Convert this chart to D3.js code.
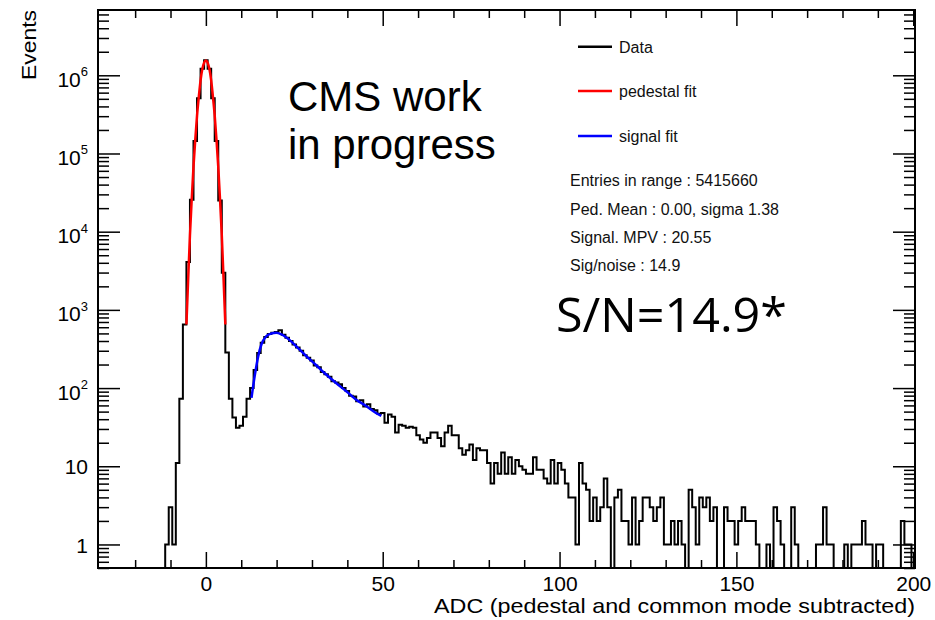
<!DOCTYPE html>
<html><head><meta charset="utf-8">
<script src="https://cdn.jsdelivr.net/npm/d3@7"></script>
<style>body{margin:0;background:#fff}svg{display:block}</style>
</head><body>
<svg id="c" width="935" height="620"></svg>
<script>
// ---------------- data ----------------
// histogram: 1-ADC-wide bins centred on integers -30 .. 200
const firstBin = -30;
const countsLeftTail = [0,0,0,0,0,0,0,0,0,0, 0,0,0,0,0,0,0,0,0];              // -30 .. -12
const countsPedestal = [1,3,1,11,73,650,4100,25700,144000,510000,1210000,
  1560000,1210000,510000,144000,25000,2980,285,73,42,31,33,43,73];           // -11 .. 12
const countsSignal = [100,170,280,380,450,490,510,520,550,480,440,400,360,330,300,262,
  245,225,195,185,160,150,140,122,118,112,100,92,80,78,68,70,58,62,54,52,47,
  48,36,46,43,27,34,33,31,32,31];                                             // 13 .. 59
const countsTail = [25,22,20,23,27,27,23,18,27,33,25,25,17,14,16,19,12,17,16,16,
  11,6,11,8,15,8,13,8,12,10,9,8,8,13,9,9,7,6,12,6,
  11,9,6,4,4,1,11,6,5,2,4,2,3,7,3,0,4,5,2,2,
  1,4,1,2,4,4,3,2,3,4,1,1,2,1,2,1,0,5,3,1,
  4,3,4,2,3,0,0,3,2,2,1,2,3,2,2,2,1,0,0,1,
  0,3,2,1,0,0,3,1,0,0,0,0,0,1,1,3,1,1,0,0,
  0,1,0,1,1,1,2,1,1,0,1,1,0,0,0,0,0,2,1,1,0];                              // 60 .. 200
const counts = [].concat(countsLeftTail, countsPedestal, countsSignal, countsTail);

const pedFitX = [-5.5,-5,-4.5,-4,-3.5,-3,-2.5,-2,-1.5,-1,-0.5,0,0.5,1,1.5,2,2.5,3,3.5,4,4.5,5,5.5];
const pedFitY = [650,2500,9000,26000,68000,150000,305000,530000,860000,1200000,1450000,1550000,
  1450000,1200000,860000,530000,305000,150000,68000,26000,9000,2500,650];

const sigFitX = [12.9,13.8,14.8,15.7,17.1,18.5,19.9,21.4,23.7,26.0,28.4,31.2,34.0,36.9,39.7,42.5,45.3,48.1,49.6];
const sigFitY = [75,142,256,361,461,499,510,485,410,327,256,196,149,115,91,71,59,48,44];

const xMajorTicks = [0,50,100,150,200];
const xMinorTicks = [-20,-10,10,20,30,40,60,70,80,90,110,120,130,140,160,170,180,190];
const yMajorTicks = [1,10,1e2,1e3,1e4,1e5,1e6];
const yMinorTicks = [0.5,0.6,0.7,0.8,0.9];
[1,10,1e2,1e3,1e4,1e5,1e6].forEach(p=>[2,3,4,5,6,7,8,9].forEach(k=>{ if(k*p<6.8e6) yMinorTicks.push(k*p); }));

const legendLabels = ["Data","pedestal fit","signal fit"];
const legendColors = ["#000000","#ff0000","#0000ff"];
const statsLines = ["Entries in range : 5415660","Ped. Mean : 0.00, sigma 1.38","Signal. MPV : 20.55","Sig/noise : 14.9"];

// ---------------- drawing ----------------
const svg = d3.select('#c');
const L=98, R=915, T=10, B=568;
const rootFont = "'Liberation Sans', Arial, Helvetica, sans-serif";
const x = d3.scaleLinear().domain([-30.5,200.5]).range([L,R]);
const y = d3.scaleLog().domain([0.5,6.84e6]).range([B,T]);

svg.append('defs').append('clipPath').attr('id','clip')
  .append('rect').attr('x',L).attr('y',T).attr('width',R-L).attr('height',B-T);

function styleAxis(g){
  g.select('.domain').remove();
  g.selectAll('.tick line').attr('stroke','#000').attr('stroke-width',1.5);
  g.selectAll('text').attr('font-family',rootFont).attr('font-size',21).attr('fill','#000');
}
// bottom axis
svg.append('g').attr('transform',`translate(0,${B})`)
  .call(d3.axisBottom(x).tickValues(xMajorTicks).tickSizeInner(-16).tickSizeOuter(0).tickPadding(8).tickFormat(d3.format('d')))
  .call(styleAxis);
svg.append('g').attr('transform',`translate(0,${B})`)
  .call(d3.axisBottom(x).tickValues(xMinorTicks).tickSizeInner(-8).tickSizeOuter(0).tickFormat(''))
  .call(styleAxis);
// top mirror
svg.append('g').attr('transform',`translate(0,${T})`)
  .call(d3.axisTop(x).tickValues(xMajorTicks).tickSizeInner(-16).tickSizeOuter(0).tickFormat(''))
  .call(styleAxis);
svg.append('g').attr('transform',`translate(0,${T})`)
  .call(d3.axisTop(x).tickValues(xMinorTicks).tickSizeInner(-8).tickSizeOuter(0).tickFormat(''))
  .call(styleAxis);
// left axis
const gLeft = svg.append('g').attr('transform',`translate(${L},0)`)
  .call(d3.axisLeft(y).tickValues(yMajorTicks).tickSizeInner(-22).tickSizeOuter(0).tickPadding(10))
  .call(styleAxis);
gLeft.selectAll('.tick text').each(function(d){
  const t = d3.select(this); const n = Math.round(Math.log10(d));
  t.text(null);
  if(n===0){ t.text('1').attr('dy','0.36em'); }
  else if(n===1){ t.text('10').attr('dy','0.36em'); }
  else {
    t.attr('dy',null).attr('y',11);
    t.append('tspan').text('10');
    t.append('tspan').attr('dy',-10.6).attr('font-size',13).text(n);
  }
});
svg.append('g').attr('transform',`translate(${L},0)`)
  .call(d3.axisLeft(y).tickValues(yMinorTicks).tickSizeInner(-11).tickSizeOuter(0).tickFormat(''))
  .call(styleAxis);
// right mirror
svg.append('g').attr('transform',`translate(${R},0)`)
  .call(d3.axisRight(y).tickValues(yMajorTicks).tickSizeInner(-22).tickSizeOuter(0).tickFormat(''))
  .call(styleAxis);
svg.append('g').attr('transform',`translate(${R},0)`)
  .call(d3.axisRight(y).tickValues(yMinorTicks).tickSizeInner(-11).tickSizeOuter(0).tickFormat(''))
  .call(styleAxis);

// histogram
const histPts = [];
counts.forEach((v,i)=>{
  const c = firstBin + i;
  const yy = v>0 ? y(v) : B;
  histPts.push([x(c-0.5),yy],[x(c+0.5),yy]);
});
svg.append('path').attr('d',d3.line()(histPts))
  .attr('fill','none').attr('stroke','#000').attr('stroke-width',2).attr('stroke-linejoin','miter')
  .attr('clip-path','url(#clip)');

// fits
const fitLine = d3.line().x(d=>x(d[0])).y(d=>y(d[1])).curve(d3.curveMonotoneX);
svg.append('path').attr('d',fitLine(pedFitX.map((u,i)=>[u,pedFitY[i]])))
  .attr('fill','none').attr('stroke','#ff0000').attr('stroke-width',2.5);
svg.append('path').attr('d',fitLine(sigFitX.map((u,i)=>[u,sigFitY[i]])))
  .attr('fill','none').attr('stroke','#0000ff').attr('stroke-width',2.5);

// frame
svg.append('rect').attr('x',L).attr('y',T).attr('width',R-L).attr('height',B-T)
  .attr('fill','none').attr('stroke','#000').attr('stroke-width',2);

// axis titles
svg.append('text').attr('x',R).attr('y',613).attr('text-anchor','end')
  .attr('font-family',rootFont).attr('font-size',21).attr('textLength',481).attr('lengthAdjust','spacingAndGlyphs')
  .text('ADC (pedestal and common mode subtracted)');
svg.append('text').attr('transform','translate(36,10) rotate(-90)').attr('text-anchor','end')
  .attr('font-family',rootFont).attr('font-size',21).attr('textLength',70).attr('lengthAdjust','spacingAndGlyphs')
  .text('Events');

// legend
const legY = [46.7,91,136];
legendLabels.forEach((lab,i)=>{
  svg.append('line').attr('x1',578).attr('x2',612).attr('y1',legY[i]).attr('y2',legY[i])
    .attr('stroke',legendColors[i]).attr('stroke-width',2.5);
  svg.append('text').attr('x',619).attr('y',legY[i]+5.8)
    .attr('font-family',rootFont).attr('font-size',16).attr('fill','#111').text(lab);
});
// stats
const statY = [186,214.5,243,270.5];
statsLines.forEach((s,i)=>{
  svg.append('text').attr('x',570).attr('y',statY[i])
    .attr('font-family',rootFont).attr('font-size',16).attr('fill','#111').text(s);
});

// annotations
svg.append('text').attr('x',288).attr('y',111).attr('font-family',"'Liberation Sans', Arial, sans-serif")
  .attr('font-size',42).attr('fill','#000').text('CMS work');
svg.append('text').attr('x',288).attr('y',159).attr('font-family',"'Liberation Sans', Arial, sans-serif")
  .attr('font-size',42).attr('fill','#000').text('in progress');
svg.append('text').attr('x',556).attr('y',332).attr('font-family',"'Open Sans', 'Noto Sans', sans-serif")
  .attr('font-size',48).attr('fill','#000').attr('textLength',231).attr('lengthAdjust','spacingAndGlyphs')
  .text('S/N=14.9*');
</script>
</body></html>
